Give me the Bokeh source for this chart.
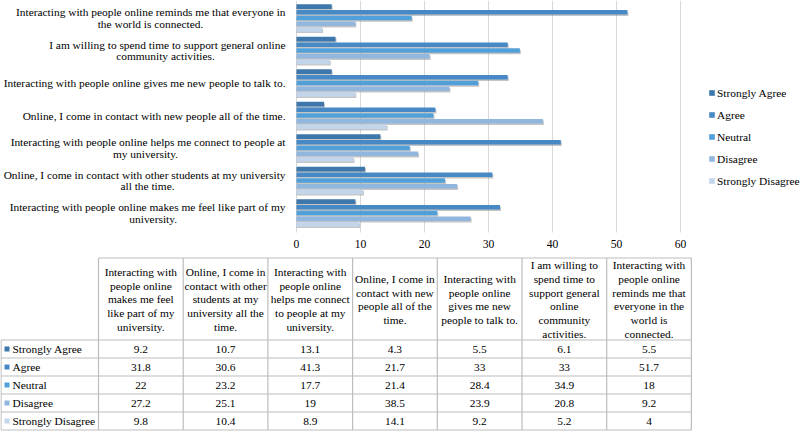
from bokeh.plotting import figure
from bokeh.models import Range1d, Legend, LegendItem, ColumnDataSource
from bokeh.transform import dodge
from bokeh.core.properties import value
from bokeh.embed import file_html
from bokeh.resources import INLINE

# ---------------- data ----------------
statements = [
    "Interacting with people online makes me feel like part of my university.",
    "Online, I come in contact with other students at my university all the time.",
    "Interacting with people online helps me connect to people at my university.",
    "Online, I come in contact with new people all of the time.",
    "Interacting with people online gives me new people to talk to.",
    "I am willing to spend time to support general online community activities.",
    "Interacting with people online reminds me that everyone in the world is connected.",
]
series = ["Strongly Agree", "Agree", "Neutral", "Disagree", "Strongly Disagree"]
strongly_agree = [9.2, 10.7, 13.1, 4.3, 5.5, 6.1, 5.5]
agree = [31.8, 30.6, 41.3, 21.7, 33, 33, 51.7]
neutral = [22, 23.2, 17.7, 21.4, 28.4, 34.9, 18]
disagree = [27.2, 25.1, 19, 38.5, 23.9, 20.8, 9.2]
strongly_disagree = [9.8, 10.4, 8.9, 14.1, 9.2, 5.2, 4]
x_ticks = [0, 10, 20, 30, 40, 50, 60]
x_tick_labels = ["0", "10", "20", "30", "40", "50", "60"]

# wrapped versions of the statements (axis labels, table headers)
axis_label_lines = [
    ["Interacting with people online makes me feel like part of my", "university."],
    ["Online, I come in contact with other students at my university", "all the time."],
    ["Interacting with people online helps me connect to people at", "my university."],
    ["Online, I come in contact with new people all of the time."],
    ["Interacting with people online gives me new people to talk to."],
    ["I am willing to spend time to support general online", "community activities."],
    ["Interacting with people online reminds me that everyone in", "the world is connected."],
]
header_lines = [
    ["Interacting with", "people online", "makes me feel", "like part of my", "university."],
    ["Online, I come in", "contact with other", "students at my", "university all the", "time."],
    ["Interacting with", "people online", "helps me connect", "to people at my", "university."],
    ["Online, I come in", "contact with new", "people all of the", "time."],
    ["Interacting with", "people online", "gives me new", "people to talk to."],
    ["I am willing to", "spend time to", "support general", "online", "community", "activities."],
    ["Interacting with", "people online", "reminds me that", "everyone in the", "world is", "connected."],
]

values_by_series = [strongly_agree, agree, neutral, disagree, strongly_disagree]
colors = ["#3d77ab", "#4789c5", "#52a0da", "#92b7df", "#c3d5eb"]

FONT = "Liberation Serif"
TXT = "#000000"
FS = "11.4px"

# ---------------- canvas: one figure, pixel coordinates ----------------
W, H = 800, 431
p = figure(width=W, height=H, x_range=Range1d(0, W), y_range=Range1d(H, 0),
           output_backend="svg", toolbar_location=None,
           x_axis_location=None, y_axis_location=None, min_border=0)
p.grid.visible = False
p.outline_line_color = None
p.background_fill_color = "white"

# value scale for the bars: 0 at px 296, 60 at px 680
PX_PER_UNIT = 6.4
ZERO_PX = 296
p.extra_x_ranges = {"val": Range1d(-ZERO_PX / PX_PER_UNIT, (W - ZERO_PX) / PX_PER_UNIT)}
# group scale: 32.5 px per statement, top group centred at px 17.5
GROUP_PX = 32.5
TOP_GROUP_PX = 17.5
n = len(statements)
top_val = (n - 1) + TOP_GROUP_PX / GROUP_PX
p.extra_y_ranges = {"grp": Range1d(top_val - H / GROUP_PX, top_val)}
grid_bottom = top_val - 232 / GROUP_PX

# vertical gridlines at the ticks
p.segment(x0=x_ticks, x1=x_ticks, y0=[grid_bottom] * len(x_ticks), y1=[top_val] * len(x_ticks),
          x_range_name="val", y_range_name="grp", line_color="#d9d9d9", line_width=1)
# tick labels
p.text(x=x_ticks, y=[243] * len(x_ticks), text=x_tick_labels, x_range_name="val",
       text_align="center", text_baseline="middle", text_font=value(FONT),
       text_font_size=value("11.6px"), text_color=TXT)

groups = list(range(n))
items = []
bar_h = 0.14
for j, (name, vals, col) in enumerate(zip(series, values_by_series, colors)):
    off = 0.35 - 0.175 * j
    src = ColumnDataSource(dict(y=groups, v=vals))
    p.hbar(y=dodge("y", off - 0.045), left=0, right=dodge("v", 0.15), height=bar_h,
           source=src, fill_color="#8c8c8c", fill_alpha=0.5, line_color=None,
           x_range_name="val", y_range_name="grp")
    r = p.hbar(y=dodge("y", off), left=0, right="v", height=bar_h, source=src,
               fill_color=col, line_color=None, x_range_name="val", y_range_name="grp")
    items.append(LegendItem(label=name, renderers=[r]))

legend = Legend(items=items, location=(708, 240.8), border_line_color=None,
                background_fill_alpha=0, glyph_width=7, glyph_height=7,
                label_height=19, spacing=3, padding=0, margin=0, label_standoff=2,
                label_text_font=FONT, label_text_font_size=FS,
                label_text_color=TXT)
p.add_layout(legend)

# category labels on the left of the bars
LABEL_RIGHT = 285
second_line_center = [152.7, 147.0, 145.0, None, None, 165.0, 150.0]
one_g, one_t = [], []
l1_g, l1_t, l2_g, l2_t, l2_x = [], [], [], [], []
for i, lines in enumerate(axis_label_lines):
    if len(lines) == 1:
        one_g.append(i); one_t.append(lines[0])
    else:
        l1_g.append(i); l1_t.append(lines[0])
        l2_g.append(i); l2_t.append(lines[1]); l2_x.append(second_line_center[i])
lab_kw = dict(text_font=value(FONT), text_font_size=value(FS), text_color=TXT,
              text_baseline="middle", y_range_name="grp")
p.text(x=[LABEL_RIGHT] * len(one_g), y=one_g, text=one_t, text_align="right", **lab_kw)
s1 = ColumnDataSource(dict(g=l1_g, t=l1_t, x=[LABEL_RIGHT] * len(l1_g)))
p.text(x="x", y=dodge("g", 0.18), text="t", source=s1, text_align="right", **lab_kw)
s2 = ColumnDataSource(dict(g=l2_g, t=l2_t, x=l2_x))
p.text(x="x", y=dodge("g", -0.18), text="t", source=s2, text_align="center", **lab_kw)

# ---------------- data table ----------------
label_w = 98.0
col_w = 84.7
header_top = 257.5
header_bot = 339.5
row_h = 18.0
ncol = n
xs = [label_w + k * col_w for k in range(ncol + 1)]
ys = [header_bot + r * row_h for r in range(len(series) + 1)]

sx0, sy0, sx1, sy1 = [], [], [], []
sx0.append(xs[0]); sx1.append(xs[-1]); sy0.append(header_top); sy1.append(header_top)
for yy in ys:
    sx0.append(0.5); sx1.append(xs[-1]); sy0.append(yy); sy1.append(yy)
for xx in xs:
    sx0.append(xx); sx1.append(xx); sy0.append(header_top); sy1.append(ys[-1])
sx0.append(0.5); sx1.append(0.5); sy0.append(header_bot); sy1.append(ys[-1])
p.segment(x0=sx0, y0=sy0, x1=sx1, y1=sy1, line_color="#bdbdbd", line_width=1.2)

centers = [xs[k] + col_w / 2 for k in range(ncol)]
p.text(x=centers, y=[(header_top + header_bot) / 2 + 0.5] * ncol,
       text=["\n".join(h) for h in header_lines],
       text_align="center", text_baseline="middle", text_font=value(FONT),
       text_font_size=value(FS), text_line_height=1.15, text_color=TXT)

row_c = [ys[r] + row_h / 2 for r in range(len(series))]
p.rect(x=[6.5] * len(series), y=row_c, width=5, height=5, fill_color=colors, line_color=None)
p.text(x=[12] * len(series), y=row_c, text=series, text_align="left",
       text_baseline="middle", text_font=value(FONT), text_font_size=value(FS),
       text_color=TXT)

vx, vy, vt = [], [], []
for r, vals in enumerate(values_by_series):
    for k, v in enumerate(vals):
        vx.append(centers[k]); vy.append(row_c[r]); vt.append(f"{v:g}")
p.text(x=vx, y=vy, text=vt, text_align="center", text_baseline="middle",
       text_font=value(FONT), text_font_size=value(FS), text_color=TXT)

open("out.html", "w").write(file_html(p, INLINE))
